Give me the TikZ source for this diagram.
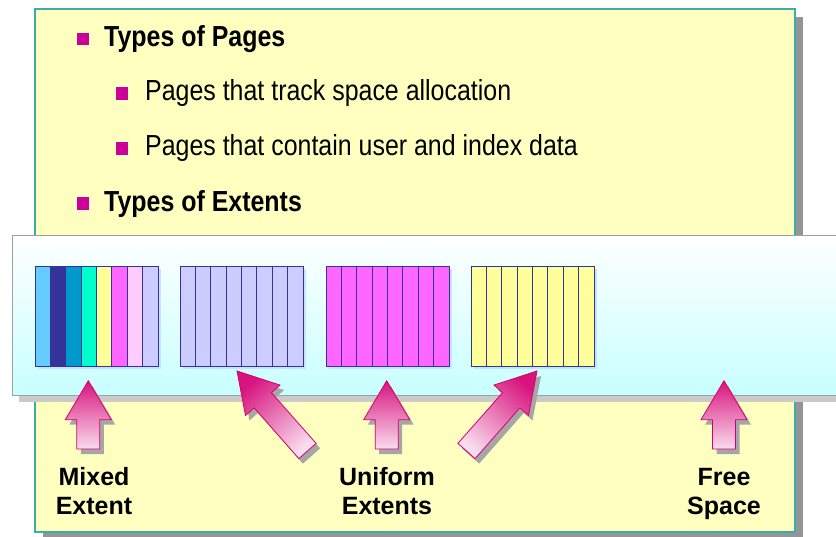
\documentclass[tikz,border=0pt]{standalone}
\usepackage{fontspec}
\setmainfont{Liberation Sans}
\newfontfamily\narrowsans{Liberation Sans}[FakeStretch=0.86]
\usetikzlibrary{calc}

\definecolor{panelfill}{HTML}{FFFFC0}
\definecolor{panelline}{HTML}{3AAFA9}
\definecolor{panelshadow}{HTML}{959595}
\definecolor{bandline}{HTML}{A0A0A0}
\definecolor{bandshadow}{HTML}{CACACA}
\definecolor{bandbottom}{HTML}{C8FFFF}
\definecolor{bulletmag}{HTML}{CC0099}
\definecolor{pageline}{HTML}{333399}
\definecolor{blockshadow}{HTML}{C4E4FF}
\definecolor{arrowdark}{HTML}{D8137E}
\definecolor{arrowlight}{HTML}{F9DCEE}
\definecolor{arrowline}{HTML}{D6006F}
\definecolor{arrowshadow}{HTML}{A6A6A6}
\definecolor{pcA}{HTML}{66CCFF}
\definecolor{pcB}{HTML}{333399}
\definecolor{pcC}{HTML}{0099CC}
\definecolor{pcD}{HTML}{00FFCC}
\definecolor{pcE}{HTML}{FFFF99}
\definecolor{pcF}{HTML}{FF66FF}
\definecolor{pcG}{HTML}{FFCCFF}
\definecolor{pcH}{HTML}{CCCCFF}

% One extent: eight pages side by side, with a soft shadow
\newcommand\extentblock[2]{%
  \fill[blockshadow] (#1+3,269) rectangle (#1+126,369);
  \foreach \c [count=\i from 0] in {#2}
    \fill[\c] ({#1+\i*15.375},266) rectangle ({#1+(\i+1)*15.375},366);
  \foreach \i in {1,...,7}
    \draw[pageline, line width=0.9pt] ({#1+\i*15.375},266) -- ({#1+\i*15.375},366);
  \draw[pageline, line width=1pt] (#1,266) rectangle (#1+123,366);
}

% Block arrow from coordinates <name>-tip and <name>-tail
\newcommand\blockarrow[1]{%
  \coordinate (#1-h)  at ($(#1-tip)!39pt!(#1-tail)$);
  \coordinate (#1-hl) at ($(#1-h)!23pt!90:(#1-tip)$);
  \coordinate (#1-hr) at ($(#1-h)!23pt!-90:(#1-tip)$);
  \coordinate (#1-sl) at ($(#1-h)!11.5pt!90:(#1-tip)$);
  \coordinate (#1-sr) at ($(#1-h)!11.5pt!-90:(#1-tip)$);
  \coordinate (#1-el) at ($(#1-tail)!11.5pt!90:(#1-tip)$);
  \coordinate (#1-er) at ($(#1-tail)!11.5pt!-90:(#1-tip)$);
}
\newcommand\arrowoutline[1]{(#1-tip) -- (#1-hl) -- (#1-sl) -- (#1-el) -- (#1-er) -- (#1-sr) -- (#1-hr) -- cycle}

\begin{document}
\begin{tikzpicture}[x=1pt,y=-1pt,
  headtext/.style={inner sep=0pt, anchor=base west, font=\narrowsans\bfseries\fontsize{29}{34}\selectfont},
  subtext/.style={inner sep=0pt, anchor=base west, font=\narrowsans\fontsize{29}{34}\selectfont},
  labeltext/.style={inner sep=0pt, anchor=base, font=\bfseries\fontsize{25}{29}\selectfont},
  bulletsq/.style={fill=bulletmag, inner sep=0pt, minimum width=12pt, minimum height=12.5pt},
  arrowshade/.style={top color=arrowdark, bottom color=arrowlight, draw=arrowline, line width=0.8pt, line join=miter},
  arrowshadowstyle/.style={fill=arrowshadow, transform canvas={shift={(4pt,-5pt)}}}
]
\useasboundingbox (0,0) rectangle (836,536);

% yellow slide panel
\fill[panelshadow] (43,17) rectangle (803,540);
\fill[panelfill] (35,9) rectangle (795,532);
\draw[panelline, line width=1.2pt] (35,9) rectangle (795,532);

% bullet list
\node[bulletsq] (b1) at (83,39) {};
\node[headtext] (t1) at (104,46.5) {Types of Pages};
\node[bulletsq] (b2) at (122.3,93.3) {};
\node[subtext] (t2) at (145,100.5) {Pages that track space allocation};
\node[bulletsq] (b3) at (122.3,148.3) {};
\node[subtext] (t3) at (145,155.5) {Pages that contain user and index data};
\node[bulletsq] (b4) at (83,203.3) {};
\node[headtext] (t4) at (104,211) {Types of Extents};

% band holding the extents
\fill[bandshadow] (19,242) rectangle (845,402);
\shade[top color=white, bottom color=bandbottom] (12,235) rectangle (845,395);
\draw[bandline, line width=1pt] (845,235) -- (12,235) -- (12,395) -- (845,395);

% extents
\extentblock{35}{pcA,pcB,pcC,pcD,pcE,pcF,pcG,pcH}
\extentblock{180}{pcH,pcH,pcH,pcH,pcH,pcH,pcH,pcH}
\extentblock{326}{pcF,pcF,pcF,pcF,pcF,pcF,pcF,pcF}
\extentblock{471}{pcE,pcE,pcE,pcE,pcE,pcE,pcE,pcE}

% arrows
\coordinate (mx-tip) at (88.3,380.7);  \coordinate (mx-tail) at (88.3,449);
\coordinate (ua-tip) at (237,371);     \coordinate (ua-tail) at (307.5,451);
\coordinate (ub-tip) at (386.7,380.7); \coordinate (ub-tail) at (386.7,449);
\coordinate (uc-tip) at (537,371);     \coordinate (uc-tail) at (466.5,451);
\coordinate (fr-tip) at (724,380.7);   \coordinate (fr-tail) at (724,449);
\blockarrow{mx}\blockarrow{ua}\blockarrow{ub}\blockarrow{uc}\blockarrow{fr}

\foreach \a in {mx,ua,ub,uc,fr}
  \fill[arrowshadowstyle] \arrowoutline{\a};

\path[arrowshade] \arrowoutline{mx};
\path[arrowshade, shading angle=41] \arrowoutline{ua};
\path[arrowshade] \arrowoutline{ub};
\path[arrowshade, shading angle=-41] \arrowoutline{uc};
\path[arrowshade] \arrowoutline{fr};

% labels
\node[labeltext] (mixA) at (94,485) {Mixed};
\node[labeltext] (mixB) at (94,514) {Extent};
\node[labeltext] (uniA) at (387,485) {Uniform};
\node[labeltext] (uniB) at (387,514) {Extents};
\node[labeltext] (freA) at (724,485) {Free};
\node[labeltext] (freB) at (724,514) {Space};
\end{tikzpicture}
\end{document}
